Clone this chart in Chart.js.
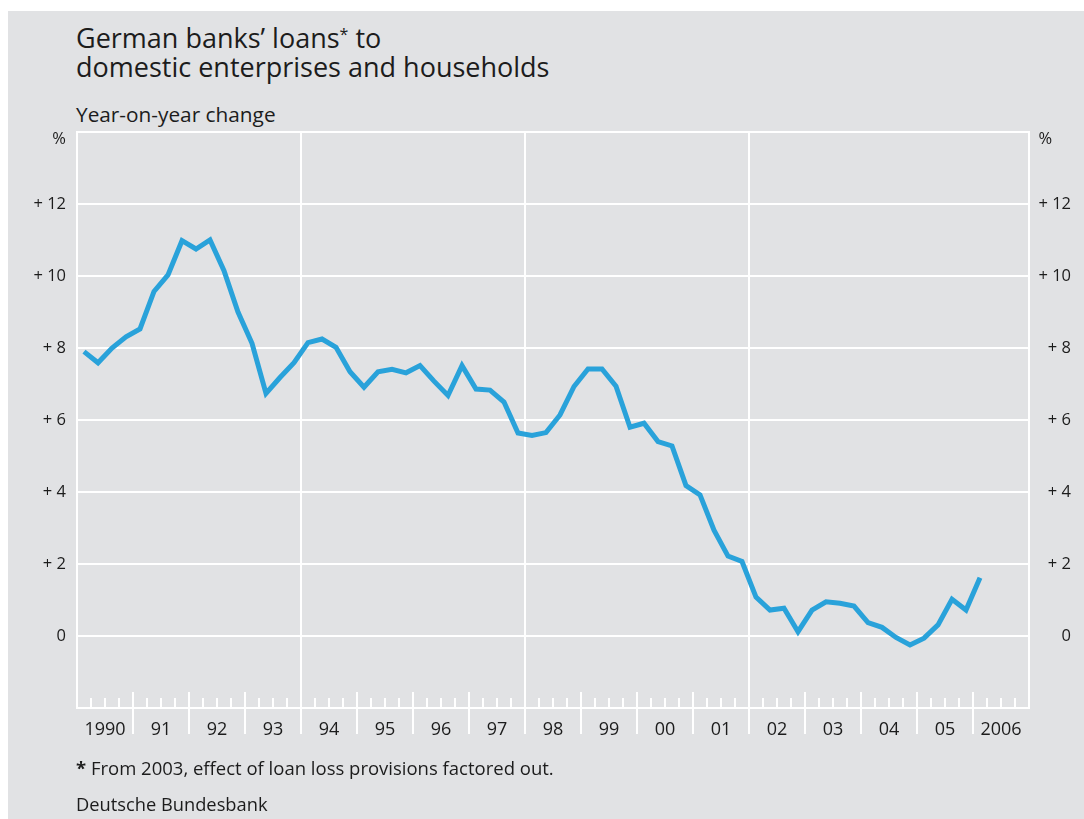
<!DOCTYPE html>
<html>
<head>
<meta charset="utf-8">
<script src="https://cdn.jsdelivr.net/npm/chart.js@4.4.1/dist/chart.umd.min.js"></script>
<style>
  html, body { margin: 0; padding: 0; background: #fff; }
  body { width: 1084px; height: 819px; position: relative; overflow: hidden;
         font-family: 'Open Sans', sans-serif; color: #1c1c1c; }
  #panel { position: absolute; left: 8px; top: 11px; right: 0; bottom: 0; background: #e1e2e4; }
  #chart { position: absolute; left: 0; top: 0; }
  .txt { position: absolute; left: 76px; white-space: nowrap; }
  #title { top: 18px; font-size: 27px; line-height: 29px; }
  #title sup { font-size: 16px; position: relative; top: 2px; }
  #sub { top: 102px; font-size: 20.8px; line-height: 24px; }
  #note { top: 757px; font-size: 18.5px; line-height: 22px; }
  #src { top: 793px; font-size: 18.3px; line-height: 22px; }
</style>
</head>
<body>
<div id="panel"></div>
<div class="txt" id="title">German banks’ loans<sup>*</sup> to<br>domestic enterprises and households</div>
<div class="txt" id="sub">Year-on-year change</div>
<canvas id="chart" width="1084" height="819"></canvas>
<div class="txt" id="note"><b>*</b> From 2003, effect of loan loss provisions factored out.</div>
<div class="txt" id="src">Deutsche Bundesbank</div>
<script>
// quarterly data, 1990 Q1 .. 2006 Q1
var startYear = 1990;
var yearLabels = ['1990', '91', '92', '93', '94', '95', '96', '97', '98', '99',
                  '00', '01', '02', '03', '04', '05', '2006'];
var loanGrowth = [
  7.90, 7.59, 8.00, 8.31,
  8.53, 9.57, 10.03, 10.98,
  10.75, 11.00, 10.15, 9.00,
  8.13, 6.74, 7.18, 7.59,
  8.15, 8.25, 8.02, 7.34,
  6.91, 7.34, 7.41, 7.31,
  7.51, 7.08, 6.68, 7.51,
  6.86, 6.83, 6.50, 5.64,
  5.57, 5.65, 6.14, 6.93,
  7.42, 7.42, 6.94, 5.80,
  5.91, 5.40, 5.28, 4.18,
  3.92, 2.94, 2.22, 2.07,
  1.08, 0.72, 0.77, 0.12,
  0.72, 0.95, 0.91, 0.83,
  0.37, 0.24, -0.04, -0.25,
  -0.06, 0.31, 1.02, 0.72,
  1.62
];
var yTicks = [0, 2, 4, 6, 8, 10, 12];
var dividerYears = [1994, 1998, 2002];

var UNIT_POS = 13.8; // where the "%" label sits
var endYear = startYear + yearLabels.length;

var points = loanGrowth.map(function (v, i) {
  return { x: startYear + (i + 0.5) / 4, y: v };
});

var tickMarks = {
  id: 'tickMarks',
  beforeDatasetsDraw: function (chart) {
    var ctx = chart.ctx;
    var xs = chart.scales.x;
    var bottom = chart.chartArea.bottom;
    ctx.save();
    ctx.strokeStyle = '#ffffff';
    ctx.lineWidth = 2;
    for (var q = 1; q < yearLabels.length * 4; q++) {
      var px = Math.round(xs.getPixelForValue(startYear + q / 4));
      ctx.beginPath();
      if (q % 4 === 0) {
        ctx.moveTo(px, bottom - 16);
        ctx.lineTo(px, bottom + 26);
      } else {
        ctx.moveTo(px, bottom - 10);
        ctx.lineTo(px, bottom);
      }
      ctx.stroke();
    }
    ctx.restore();
  }
};

function yLabel(v) {
  if (v === UNIT_POS) return '%';
  return v > 0 ? '+ ' + v : String(v);
}

function yLabelRight(v) {
  // the right-hand "%" sits a little left of the number column
  return v === UNIT_POS ? '%\u2007\u2007' : yLabel(v);
}

Chart.defaults.font.family = "'Open Sans', sans-serif";
Chart.defaults.color = '#1c1c1c';

new Chart(document.getElementById('chart').getContext('2d'), {
  type: 'line',
  data: {
    datasets: [{
      data: points,
      borderColor: '#29a2da',
      borderWidth: 5,
      pointRadius: 0,
      tension: 0
    }, {
      data: points,
      borderColor: '#86cdee',
      borderWidth: 1.2,
      pointRadius: 0,
      tension: 0
    }]
  },
  options: {
    responsive: false,
    animation: false,
    events: [],
    layout: { padding: { top: 132, bottom: 61, left: 0, right: 13 } },
    plugins: { legend: { display: false }, tooltip: { enabled: false } },
    scales: {
      x: {
        type: 'linear', position: 'bottom', min: startYear, max: endYear,
        afterBuildTicks: function (s) {
          s.ticks = yearLabels.map(function (_, i) { return { value: startYear + i + 0.5 }; });
        },
        afterFit: function (s) { s.height = 50; },
        grid: { display: false },
        border: { display: true, color: '#ffffff', width: 2 },
        ticks: {
          autoSkip: false, maxRotation: 0, padding: 3,
          font: { size: 18 },
          callback: function (v) { return yearLabels[Math.floor(v - startYear)]; }
        }
      },
      xg: {
        type: 'linear', position: 'top', min: startYear, max: endYear,
        afterBuildTicks: function (s) {
          s.ticks = dividerYears.map(function (y) { return { value: y }; });
        },
        afterFit: function (s) { s.height = 0; },
        grid: { color: '#ffffff', lineWidth: 2, drawTicks: false },
        border: { display: true, color: '#ffffff', width: 2 },
        ticks: { display: false }
      },
      y: {
        position: 'left', min: -2, max: 14,
        afterBuildTicks: function (s) {
          s.ticks = yTicks.concat([UNIT_POS]).map(function (v) { return { value: v }; });
        },
        afterFit: function (s) { s.width = 77; },
        grid: {
          lineWidth: 2, drawTicks: false,
          color: function (c) { return c.tick && c.tick.value === UNIT_POS ? 'rgba(0,0,0,0)' : '#ffffff'; }
        },
        border: { display: true, color: '#ffffff', width: 2 },
        ticks: { padding: 11, font: { size: 16.5 }, callback: yLabel }
      },
      y2: {
        position: 'right', min: -2, max: 14,
        afterBuildTicks: function (s) {
          s.ticks = yTicks.concat([UNIT_POS]).map(function (v) { return { value: v }; });
        },
        afterFit: function (s) { s.width = 42; },
        grid: { display: false },
        border: { display: true, color: '#ffffff', width: 2 },
        ticks: { crossAlign: 'far', font: { size: 16.5 }, callback: yLabelRight }
      }
    }
  },
  plugins: [tickMarks]
});
</script>
</body>
</html>
